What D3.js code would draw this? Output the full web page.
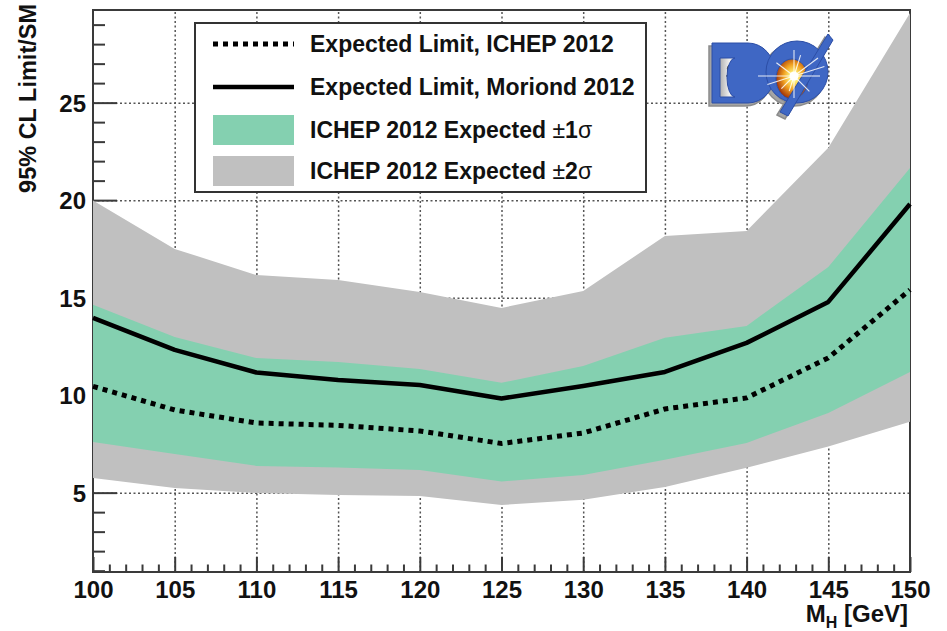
<!DOCTYPE html>
<html>
<head>
<meta charset="utf-8">
<script src="https://cdn.jsdelivr.net/npm/d3@7"></script>
<style>
  html, body { margin: 0; padding: 0; background: #fff; }
  svg { display: block; }
  text { font-family: "Liberation Sans", Arial, Helvetica, sans-serif; fill: #111; }
</style>
</head>
<body>
<svg id="chart" width="947" height="631"></svg>
<script>
// Higgs mass points (GeV)
const masses = [100, 105, 110, 115, 120, 125, 130, 135, 140, 145, 150];

// Expected 95% CL limit / SM, ICHEP 2012 (dotted)
const expIchep = [10.45, 9.24, 8.57, 8.45, 8.16, 7.52, 8.06, 9.29, 9.86, 11.91, 15.4];
// Expected 95% CL limit / SM, Moriond 2012 (solid)
const expMoriond = [13.96, 12.32, 11.16, 10.78, 10.52, 9.83, 10.47, 11.19, 12.68, 14.78, 19.8];

// ICHEP 2012 expected +-1 sigma band
const band1Lo = [7.6, 6.98, 6.37, 6.29, 6.16, 5.57, 5.91, 6.68, 7.55, 9.09, 11.19];
const band1Hi = [14.63, 12.98, 11.9, 11.7, 11.34, 10.63, 11.5, 12.94, 13.55, 16.57, 21.65];
// ICHEP 2012 expected +-2 sigma band
const band2Lo = [5.75, 5.24, 4.98, 4.88, 4.83, 4.37, 4.63, 5.29, 6.27, 7.36, 8.64];
const band2Hi = [19.98, 17.5, 16.16, 15.9, 15.29, 14.47, 15.34, 18.16, 18.42, 22.68, 29.6];

// Axis ticks
const xMajorTicks = [100, 105, 110, 115, 120, 125, 130, 135, 140, 145, 150];
const yMajorTicks = [5, 10, 15, 20, 25];

const svg = d3.select("#chart");
const plotL = 93, plotR = 910, plotT = 10, plotB = 572;

const x = d3.scaleLinear().domain([100, 150]).range([plotL, plotR]);
const y = d3.scaleLinear().domain([0.93, 29.75]).range([plotB, plotT]);

const GREEN = "#84d0b0";
const GREY = "#c0c0c0";

// ---- dotted grid at the major ticks (behind everything) ----
const gridX = svg.append("g")
  .attr("transform", `translate(0,${plotB})`)
  .call(d3.axisBottom(x).tickValues(xMajorTicks.slice(1, -1)).tickSize(-(plotB - plotT)).tickFormat(""));
const gridY = svg.append("g")
  .attr("transform", `translate(${plotL},0)`)
  .call(d3.axisLeft(y).tickValues(yMajorTicks).tickSize(-(plotR - plotL)).tickFormat(""));
[gridX, gridY].forEach(g => {
  g.select(".domain").remove();
  g.selectAll(".tick line")
    .attr("stroke", "#555")
    .attr("stroke-width", 1.5)
    .attr("stroke-dasharray", "2,2.5");
});

// ---- frame and axes ----
const axisColor = "#3a3a3a";
svg.append("rect")
  .attr("x", plotL).attr("y", plotT)
  .attr("width", plotR - plotL).attr("height", plotB - plotT)
  .attr("fill", "none").attr("stroke", axisColor).attr("stroke-width", 2);

const xMinor = d3.range(100, 151, 1).filter(d => d % 5 !== 0);
const yMinor = d3.range(1, 30, 1).filter(d => d % 5 !== 0);

const xAxisMajor = svg.append("g")
  .attr("transform", `translate(0,${plotB})`)
  .call(d3.axisBottom(x).tickValues(xMajorTicks).tickSize(-15).tickPadding(8).tickFormat(d3.format("d")));
const xAxisMinor = svg.append("g")
  .attr("transform", `translate(0,${plotB})`)
  .call(d3.axisBottom(x).tickValues(xMinor).tickSize(-7.5).tickFormat(""));
const yAxisMajor = svg.append("g")
  .attr("transform", `translate(${plotL},0)`)
  .call(d3.axisLeft(y).tickValues(yMajorTicks).tickSize(-24).tickPadding(7).tickFormat(d3.format("d")));
const yAxisMinor = svg.append("g")
  .attr("transform", `translate(${plotL},0)`)
  .call(d3.axisLeft(y).tickValues(yMinor).tickSize(-12).tickFormat(""));

[xAxisMajor, xAxisMinor, yAxisMajor, yAxisMinor].forEach(g => {
  g.select(".domain").remove();
  g.selectAll(".tick line").attr("stroke", axisColor).attr("stroke-width", 2);
  g.selectAll(".tick text")
    .attr("fill", "#111")
    .style("font-family", "'Liberation Sans', Arial, sans-serif")
    .style("font-size", "24px")
    .style("font-weight", "bold");
});
xAxisMajor.selectAll(".tick text").attr("dy", "0.74em");
yAxisMajor.selectAll(".tick text").attr("dy", "0.36em");

// axis titles
const xTitle = svg.append("text")
  .attr("x", plotR - 2).attr("y", 622)
  .attr("text-anchor", "end")
  .style("font-size", "24px").style("font-weight", "bold");
xTitle.append("tspan").text("M");
xTitle.append("tspan").attr("dy", 6).style("font-size", "16px").text("H");
xTitle.append("tspan").attr("dy", -6).text(" [GeV]");

svg.append("text")
  .attr("transform", "translate(36,4) rotate(-90)")
  .attr("text-anchor", "end")
  .style("font-size", "23.5px").style("font-weight", "bold")
  .text("95% CL Limit/SM");

// ---- bands ----
const rows = masses.map((m, i) => ({
  m, lo1: band1Lo[i], hi1: band1Hi[i], lo2: band2Lo[i], hi2: band2Hi[i],
  ichep: expIchep[i], moriond: expMoriond[i]
}));

svg.append("path")
  .datum(rows)
  .attr("fill", GREY)
  .attr("d", d3.area().x(d => x(d.m)).y0(d => y(d.lo2)).y1(d => y(d.hi2)));
svg.append("path")
  .datum(rows)
  .attr("fill", GREEN)
  .attr("d", d3.area().x(d => x(d.m)).y0(d => y(d.lo1)).y1(d => y(d.hi1)));

// ---- expected limit curves ----
svg.append("path")
  .datum(rows)
  .attr("fill", "none").attr("stroke", "#000")
  .attr("stroke-width", 5).attr("stroke-dasharray", "5,5")
  .attr("d", d3.line().x(d => x(d.m)).y(d => y(d.ichep)));
svg.append("path")
  .datum(rows)
  .attr("fill", "none").attr("stroke", "#000")
  .attr("stroke-width", 4.5).attr("stroke-linejoin", "round")
  .attr("d", d3.line().x(d => x(d.m)).y(d => y(d.moriond)));

// ---- legend ----
const legend = svg.append("g");
legend.append("rect")
  .attr("x", 195).attr("y", 23).attr("width", 451).attr("height", 169)
  .attr("fill", "#fff").attr("stroke", "#333").attr("stroke-width", 2);

const legendItems = [
  { kind: "dotted", label: "Expected Limit, ICHEP 2012", cy: 44 },
  { kind: "solid", label: "Expected Limit, Moriond 2012", cy: 87 },
  { kind: "fill", color: GREEN, label: "ICHEP 2012 Expected ", sigma: "1", cy: 130 },
  { kind: "fill", color: GREY, label: "ICHEP 2012 Expected ", sigma: "2", cy: 171 }
];
legendItems.forEach(it => {
  if (it.kind === "dotted") {
    legend.append("line").attr("x1", 213).attr("x2", 294).attr("y1", it.cy).attr("y2", it.cy)
      .attr("stroke", "#000").attr("stroke-width", 5).attr("stroke-dasharray", "5,5");
  } else if (it.kind === "solid") {
    legend.append("line").attr("x1", 213).attr("x2", 294).attr("y1", it.cy).attr("y2", it.cy)
      .attr("stroke", "#000").attr("stroke-width", 4.5);
  } else {
    legend.append("rect").attr("x", 213).attr("y", it.cy - 15).attr("width", 81).attr("height", 30)
      .attr("fill", it.color);
  }
  const t = legend.append("text")
    .attr("x", 310).attr("y", it.cy + 8)
    .style("font-size", "23px").style("font-weight", "bold");
  t.append("tspan").text(it.label);
  if (it.sigma) {
    t.append("tspan").style("font-weight", "normal").text("\u00B1");
    t.append("tspan").text(it.sigma);
    t.append("tspan").style("font-weight", "normal").text("\u03C3");
  }
});

// ---- DØ logo ----
const logo = svg.append("g");
const defs = svg.append("defs");
const rg = defs.append("radialGradient").attr("id", "burst").attr("cx", "55%").attr("cy", "45%").attr("r", "58%");
rg.append("stop").attr("offset", "0%").attr("stop-color", "#ffffff");
rg.append("stop").attr("offset", "20%").attr("stop-color", "#fff27a");
rg.append("stop").attr("offset", "55%").attr("stop-color", "#f0a020");
rg.append("stop").attr("offset", "100%").attr("stop-color", "#9a2a08");
const hole = defs.append("linearGradient").attr("id", "hole").attr("x1", "0%").attr("x2", "100%");
hole.append("stop").attr("offset", "0%").attr("stop-color", "#b0b0b0");
hole.append("stop").attr("offset", "40%").attr("stop-color", "#efefef");
hole.append("stop").attr("offset", "100%").attr("stop-color", "#ffffff");

// letter outlines: D with counter, Ø ring with off-centre hole, slash
const dShape = "M712,43 L748,43 A27,30 0 0 1 748,103 L712,103 Z M720,58 L735,58 A8,19.5 0 0 0 735,97 L720,97 Z";
const oShape = "M766,72 A31,31 0 1 1 828,72 A31,31 0 1 1 766,72 Z M776,79 A16,20 0 1 0 808,79 A16,20 0 1 0 776,79 Z";
const slash = "M780,112 L788,116 L833,40 L828,34 Z";
const BLUE = "#3f67c4";

const shadow = logo.append("g").attr("transform", "translate(-3,3)")
  .attr("fill", "#a5a5a5").attr("stroke", "#8c8c8c").attr("stroke-width", 1.5).attr("fill-rule", "evenodd");
shadow.append("path").attr("d", dShape);
shadow.append("path").attr("d", oShape);
shadow.append("path").attr("d", slash);

// D counter: pale with the signature scribble
logo.append("path").attr("d", "M720,58 L735,58 A8,19.5 0 0 1 735,97 L720,97 Z").attr("fill", "url(#hole)");
logo.append("path")
  .attr("d", "M731,64 C726,66 726,72 732,73 C737,74 736,68 731,70 C726,73 728,80 733,81 C737,82 737,76 733,77 M726,76 C732,75 738,78 744,84 C750,89 758,88 766,83")
  .attr("fill", "none").attr("stroke", "#111").attr("stroke-width", 0.9);
// collision glow in the Ø
logo.append("ellipse").attr("cx", 792).attr("cy", 79).attr("rx", 16).attr("ry", 20)
  .attr("fill", "url(#burst)");

const face = logo.append("g").attr("fill", BLUE).attr("stroke", "#2c4ea6").attr("stroke-width", 1)
  .attr("fill-rule", "evenodd");
face.append("path").attr("d", dShape);
face.append("path").attr("d", oShape);
face.append("path").attr("d", slash);

// starburst rays
const rays = [[-1, 0, 36], [1, 0, 26], [0, -1, 26], [0, 1, 22], [-0.8, -0.6, 22], [0.8, -0.6, 30],
              [-0.7, 0.7, 18], [0.7, 0.7, 22], [-0.95, 0.3, 28], [0.95, -0.3, 32], [0.3, -0.95, 22], [-0.3, 0.95, 16]];
rays.forEach(([dx, dy, len]) => {
  logo.append("line")
    .attr("x1", 794).attr("y1", 76)
    .attr("x2", 794 + dx * len).attr("y2", 76 + dy * len)
    .attr("stroke", "#ffffff").attr("stroke-width", 1.1).attr("stroke-opacity", 0.85);
});
logo.append("circle").attr("cx", 794).attr("cy", 76).attr("r", 4.5).attr("fill", "#ffffff");
</script>
</body>
</html>
